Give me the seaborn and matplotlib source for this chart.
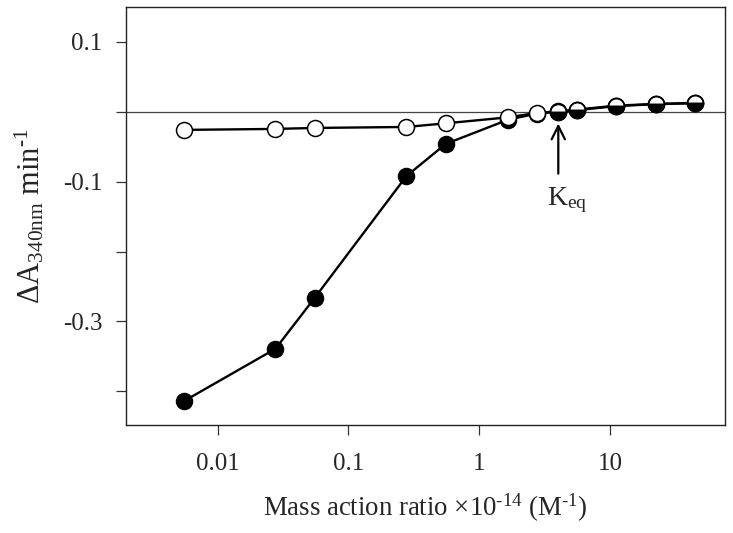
import matplotlib
matplotlib.use("Agg")
import matplotlib.pyplot as plt
import matplotlib.ticker as mticker
import pandas as pd
import seaborn as sns

# Mass action ratio (x10^-14 M^-1)
ratio = [0.00553, 0.0277, 0.0553, 0.277, 0.553, 1.66, 2.73, 4.0, 5.53, 11.1, 22.1, 44.0]
# open circles
rate_open = [-0.0261, -0.0247, -0.0233, -0.0219, -0.0167, -0.0081,
             -0.0019, 0.0004, 0.0029, 0.0086, 0.0110, 0.0124]
# filled circles
rate_filled = [-0.4139, -0.339, -0.266, -0.0921, -0.0461, -0.0114,
               -0.0029, -0.0002, 0.0021, 0.0079, 0.0107, 0.0121]

k_eq = 4.0

x_ticks = [0.01, 0.1, 1, 10]
x_tick_labels = ["0.01", "0.1", "1", "10"]
y_ticks = [0.1, 0.0, -0.1, -0.2, -0.3, -0.4]
y_tick_labels = ["0.1", "", "-0.1", "", "-0.3", ""]

df = pd.DataFrame({"ratio": ratio, "open": rate_open, "filled": rate_filled})

sns.set_style("ticks")
plt.rcParams["font.family"] = ["Liberation Serif", "DejaVu Serif"]
plt.rcParams["mathtext.fontset"] = "custom"
plt.rcParams["mathtext.rm"] = "Liberation Serif"
plt.rcParams["mathtext.it"] = "Liberation Serif:italic"

fig = plt.figure(figsize=(7.33, 5.33), dpi=100)
ax = fig.add_axes([0.1719, 0.2026, 0.8172, 0.7848])

ax.axhline(0, color="#444444", lw=0.9, zorder=1)

mk = dict(marker="o", markersize=11.5, markeredgecolor="black", markeredgewidth=1.1)
sns.lineplot(data=df, x="ratio", y="filled", ax=ax, color="black", lw=1.7,
             markerfacecolor="black", zorder=3, **mk)
sns.lineplot(data=df, x="ratio", y="open", ax=ax, color="black", lw=1.7,
             markerfacecolor="white", zorder=4, **mk)

# where the two series overlap the filled symbol shows as the lower half
over = df[df["ratio"] >= k_eq]
ax.plot(over["ratio"], over["filled"], ls="none", fillstyle="bottom",
        markerfacecolor="black", markerfacecoloralt="none", zorder=5, **mk)

ax.set_xscale("log")
ax.set_xlim(0.002, 75)
ax.set_ylim(-0.448, 0.15)
ax.xaxis.set_major_locator(mticker.FixedLocator(x_ticks))
ax.xaxis.set_major_formatter(mticker.FixedFormatter(x_tick_labels))
ax.xaxis.set_minor_locator(mticker.NullLocator())
ax.yaxis.set_major_locator(mticker.FixedLocator(y_ticks))
ax.yaxis.set_major_formatter(mticker.FixedFormatter(y_tick_labels))
ax.tick_params(axis="both", direction="out", length=7, width=0.9,
               labelsize=18, color="#333333")
ax.tick_params(axis="x", pad=13)
ax.tick_params(axis="y", pad=10)

for sp in ax.spines.values():
    sp.set_visible(True)
    sp.set_linewidth(1.0)
    sp.set_color("#222222")

# U+2010 hyphen keeps the short dash of the original in the exponents
ax.set_xlabel("Mass action ratio $\\times$10$^{\\mathregular{\u201014}}$ (M$^{\\mathregular{\u20101}}$)",
              fontsize=19.3, labelpad=12)
ax.set_ylabel("$\\Delta$A$_{\\mathregular{340nm}}$ min$^{\\mathregular{\u20101}}$",
              fontsize=22, labelpad=12)

ax.annotate("", xy=(k_eq, -0.017), xytext=(k_eq, -0.0886),
            arrowprops=dict(arrowstyle="->", color="black", lw=1.6,
                            shrinkA=0, shrinkB=0, mutation_scale=24))
ax.text(4.68, -0.134, r"K$_{\mathregular{eq}}$", ha="center", va="baseline",
        fontsize=20)

fig.savefig("out.png", dpi=100)
